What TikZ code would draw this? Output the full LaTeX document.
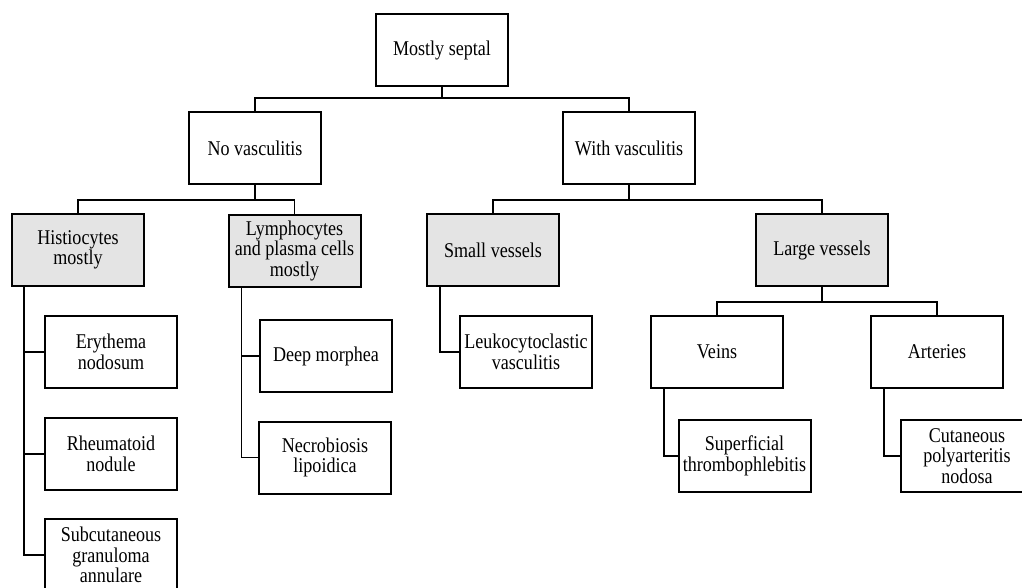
\documentclass[tikz,border=0pt]{standalone}
\usepackage{fontspec}
\setmainfont{Liberation Serif}[FakeStretch=0.86]
\definecolor{boxgray}{HTML}{E4E4E4}
\begin{document}
\begin{tikzpicture}[x={(1pt,0)},y={(0,-1pt)},
  box/.style={draw=black, line width=2pt, fill=white, minimum width=132pt, minimum height=72pt,
    inner sep=0pt, align=center, font=\fontsize{21}{20.5}\selectfont},
  graybox/.style={box, fill=boxgray},
  conn/.style={draw=black, line width=1.3pt}]
\useasboundingbox (0,0) rectangle (1022,588);
% nodes
\node[box] (top) at (442,50) {Mostly septal};
\node[box] (nov) at (255,148) {No vasculitis};
\node[box] (withv) at (629,148) {With vasculitis};
\node[graybox] (hist) at (78,250) {Histiocytes\\mostly};
\node[graybox] (lymph) at (294.5,250.5) {Lymphocytes\\and plasma cells\\mostly};
\node[graybox] (small) at (493,250) {Small vessels};
\node[graybox] (large) at (822,250) {Large vessels};
\node[box] (ery) at (111,352) {Erythema\\nodosum};
\node[box] (rheu) at (111,454) {Rheumatoid\\nodule};
\node[box] (subc) at (111,555) {Subcutaneous\\granuloma\\annulare};
\node[box] (deep) at (326,356) {Deep morphea};
\node[box] (necro) at (325,457.5) {Necrobiosis\\lipoidica};
\node[box] (leuk) at (526,352) {Leukocytoclastic\\vasculitis};
\node[box] (veins) at (717,352) {Veins};
\node[box] (art) at (937,352) {Arteries};
\node[box] (sup) at (744.5,456) {Superficial\\thrombophlebitis};
\node[box] (cut) at (967,456) {Cutaneous\\polyarteritis\\nodosa};
% connectors
\draw[conn] (top.south) -- ++(0,11) -| (nov.north);
\draw[conn] (top.south) -- ++(0,11) -| (withv.north);
\draw[conn] (nov.south) -- ++(0,15) -| (hist.north);
\draw[conn] (nov.south) -- ++(0,15) -| (lymph.north);
\draw[conn] (withv.south) -- ++(0,15) -| (small.north);
\draw[conn] (withv.south) -- ++(0,15) -| (large.north);
\draw[conn] (large.south) -- ++(0,15) -| (veins.north);
\draw[conn] (large.south) -- ++(0,15) -| (art.north);
\draw[conn] ([xshift=13pt]hist.south west) |- (ery.west);
\draw[conn] ([xshift=13pt]hist.south west) |- (rheu.west);
\draw[conn] ([xshift=13pt]hist.south west) |- (subc.west);
\draw[conn] ([xshift=14pt]lymph.south west) |- (deep.west);
\draw[conn] ([xshift=14pt]lymph.south west) |- (necro.west);
\draw[conn] ([xshift=14pt]small.south west) |- (leuk.west);
\draw[conn] ([xshift=14pt]veins.south west) |- (sup.west);
\draw[conn] ([xshift=14pt]art.south west) |- (cut.west);
\end{tikzpicture}
\end{document}
